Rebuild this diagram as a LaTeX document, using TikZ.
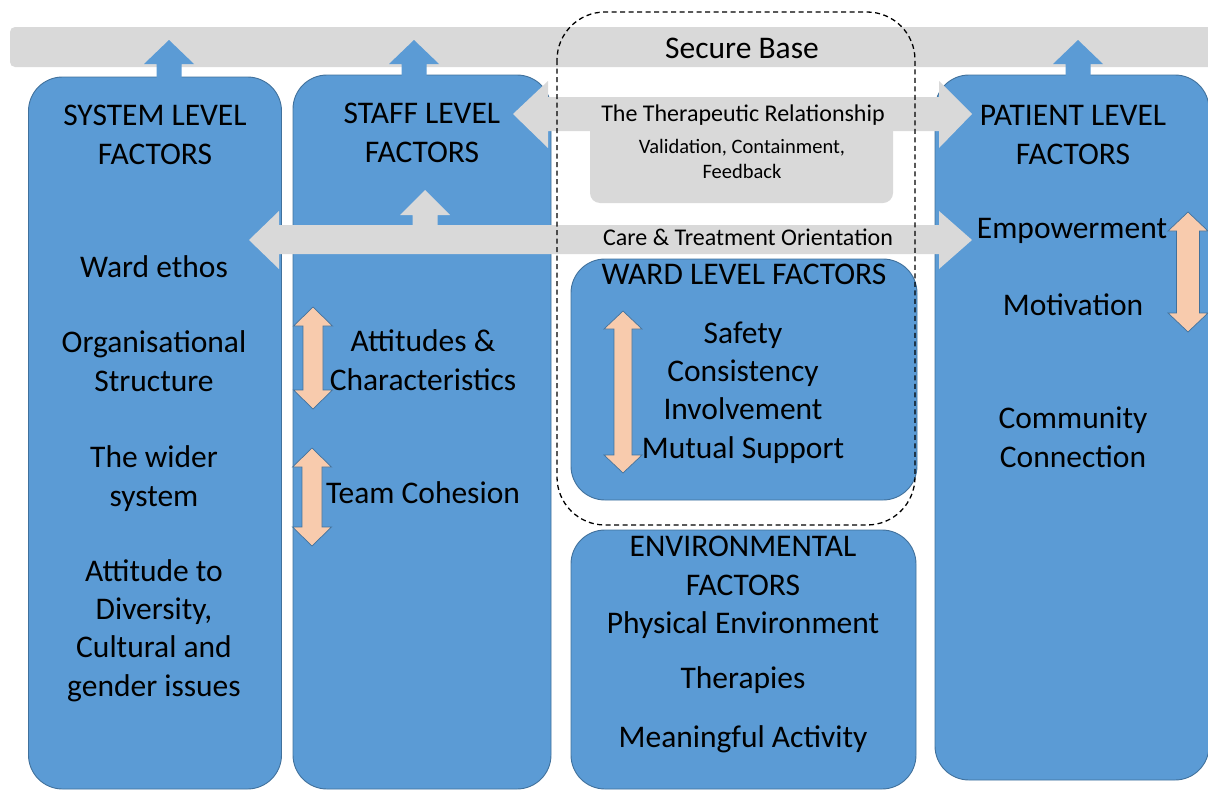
\documentclass[tikz,border=0pt]{standalone}
\usepackage{fontspec}
\setmainfont{Carlito}
\definecolor{boxblue}{HTML}{5B9BD5}
\definecolor{boxedge}{HTML}{41719C}
\definecolor{bargray}{HTML}{D9D9D9}
\definecolor{peach}{HTML}{F8CBAD}
\newcommand\bigtxt{\fontsize{31.5}{38.2}\selectfont}
\newcommand\medtxt{\fontsize{24}{29}\selectfont}
\newcommand\smtxt{\fontsize{20.5}{25}\selectfont}
% vertical double block arrow: x, ytop, ybottom, head half width, head length, shaft half width
\newcommand\vdblarrow[6]{%
  \path[peacharrow] (#1,#2) -- (#1+#4,#2+#5) -- (#1+#6,#2+#5) -- (#1+#6,#3-#5)
    -- (#1+#4,#3-#5) -- (#1,#3) -- (#1-#4,#3-#5) -- (#1-#6,#3-#5)
    -- (#1-#6,#2+#5) -- (#1-#4,#2+#5) -- cycle;}
% upward block arrow: x, ytip, yheadbase, ybottom, head half, shaft half, style
\newcommand\upblock[7]{%
  \path[#7] (#1,#2) -- (#1+#5,#3) -- (#1+#6,#3) -- (#1+#6,#4) -- (#1-#6,#4)
    -- (#1-#6,#3) -- (#1-#5,#3) -- cycle;}
\begin{document}
\begin{tikzpicture}[x=1pt,y=-1pt,
  factorbox/.style={draw=boxedge, line width=0.9pt, fill=boxblue, rounded corners=34pt, inner sep=0pt},
  grayfill/.style={fill=bargray, draw=none},
  bluefill/.style={fill=boxblue, draw=none},
  peacharrow/.style={fill=peach, draw=boxedge, line width=0.7pt},
  txt/.style={inner sep=0pt, anchor=base, align=center, font=\bigtxt, text=black},
  medt/.style={txt, font=\medtxt},
  smt/.style={txt, font=\smtxt},
  dashbox/.style={draw=black, line width=1.3pt, dash pattern=on 5pt off 3.5pt, rounded corners=48pt}]
\useasboundingbox (0,0) rectangle (1208,790);

% Secure base bar
\path[grayfill, rounded corners=5pt] (10,27) rectangle (1230,67);
\node[txt] (secure) at (742,58) {Secure Base};

% Blue factor boxes
\node[factorbox, minimum width=253pt, minimum height=712pt] (sys) at (155,433) {};
\node[factorbox, minimum width=258pt, minimum height=714pt] (staff) at (422,432) {};
\node[factorbox, minimum width=274pt, minimum height=705pt] (pat) at (1072,427.5) {};
\node[factorbox, minimum width=346pt, minimum height=241pt] (ward) at (744,379.5) {};
\node[factorbox, minimum width=345pt, minimum height=259pt] (env) at (743.5,659.5) {};

% Blue up arrows into the secure base bar
\upblock{169}{40}{64}{79}{25}{12.5}{bluefill}
\upblock{414}{40}{64}{77}{25}{12.5}{bluefill}
\upblock{1078}{40}{64}{77}{25}{12.5}{bluefill}

% Therapeutic relationship double arrow with containment panel
\path[grayfill, rounded corners=10pt] (590,110) rectangle (893,203);
\path[grayfill] (513,114) -- (548,81) -- (548,97) -- (939,97) -- (939,81) -- (972,114)
  -- (939,148) -- (939,131) -- (548,131) -- (548,148) -- cycle;

% Care & treatment orientation double arrow with upward branch
\path[grayfill] (249,240) -- (279,211) -- (279,225) -- (939,225) -- (939,211) -- (972,240)
  -- (939,269) -- (939,254) -- (279,254) -- (279,269) -- cycle;
\upblock{425}{190}{215}{226}{25}{12.5}{grayfill}

% Peach double arrows
\vdblarrow{313}{307}{409}{19.5}{19}{10}
\vdblarrow{312}{448}{546}{19.5}{19}{10}
\vdblarrow{623}{311}{473}{19}{18}{9}
\vdblarrow{1188}{212}{332}{20}{19}{11.5}

% Texts (multi-line nodes are placed at the baseline of their last line)
% system level
\node[txt] (systitle) at (155,164) {SYSTEM LEVEL\\FACTORS};
\node[txt] (ethos) at (154,277) {Ward ethos};
\node[txt] (org) at (154,391) {Organisational\\Structure};
\node[txt] (wider) at (154,506) {The wider\\system};
\node[txt] (divers) at (154,696) {Attitude to\\Diversity,\\Cultural and\\gender issues};

% staff level
\node[txt] (stafftitle) at (422,162) {STAFF LEVEL\\FACTORS};
\node[txt] (attit) at (423,390) {Attitudes \&\\Characteristics};
\node[txt] (team) at (423,503) {Team Cohesion};

% centre
\node[medt] (ther) at (743,121) {The Therapeutic Relationship};
\node[smt] (valid) at (742,178) {Validation, Containment,\\Feedback};
\node[medt] (care) at (748,245) {Care \& Treatment Orientation};
\node[txt] (wardtitle) at (744,284) {WARD LEVEL FACTORS};
\node[txt] (wardlist) at (743,458) {Safety\\Consistency\\Involvement\\Mutual Support};
\node[txt] (envtitle) at (743,595) {ENVIRONMENTAL\\FACTORS};
\node[txt] (phys) at (743,633) {Physical Environment};
\node[txt] (thera) at (743,688) {Therapies};
\node[txt] (mean) at (743,747) {Meaningful Activity};

% patient level
\node[txt] (pattitle) at (1073,164) {PATIENT LEVEL\\FACTORS};
\node[txt] (empow) at (1072,238) {Empowerment};
\node[txt] (motiv) at (1073,315) {Motivation};
\node[txt] (comm) at (1073,467) {Community\\Connection};

% Dashed secure-base outline
\draw[dashbox] (557,12) rectangle (915,525);
\end{tikzpicture}
\end{document}
